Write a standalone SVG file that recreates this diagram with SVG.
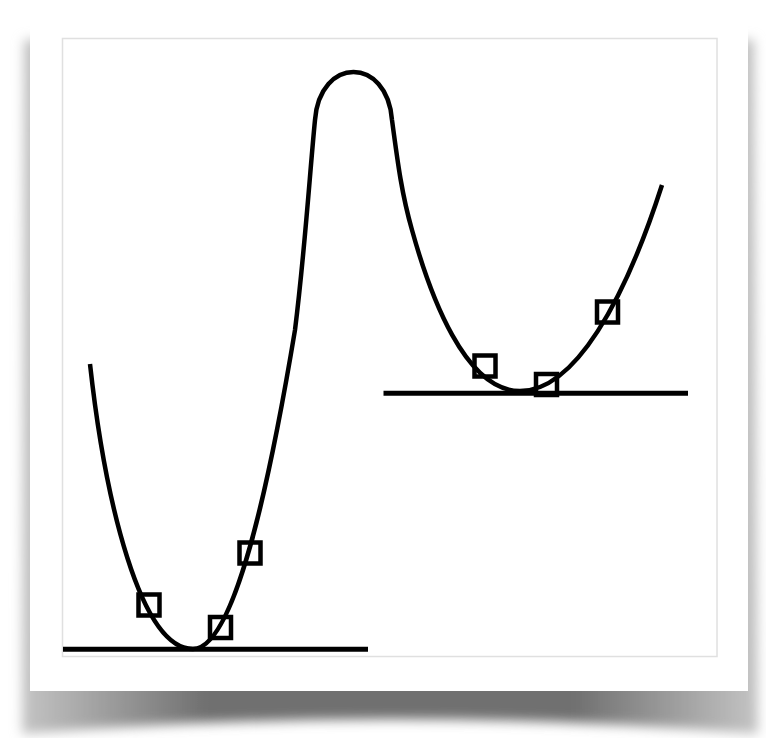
<svg xmlns="http://www.w3.org/2000/svg" width="766" height="738" viewBox="0 0 766 738">
  <defs>
    <filter id="blur" x="-10%" y="-10%" width="120%" height="120%">
      <feGaussianBlur stdDeviation="6"/>
    </filter>
    <linearGradient id="shade" x1="0" y1="0" x2="1" y2="0">
      <stop offset="0" stop-color="#c4c4c4"/>
      <stop offset="0.25" stop-color="#707070"/>
      <stop offset="0.75" stop-color="#707070"/>
      <stop offset="1" stop-color="#c4c4c4"/>
    </linearGradient>
    <style>
      .curve { fill: none; stroke: #000; stroke-width: 4.5; }
      .base { fill: none; stroke: #000; stroke-width: 5; }
      .pt { fill: none; stroke: #000; stroke-width: 4.5; }
    </style>
  </defs>
  <rect width="766" height="738" fill="#fff"/>
  <!-- shadow -->
  <path d="M24,40 L754,40 L758,734 Q390,704 22,734 Z" fill="url(#shade)" filter="url(#blur)"/>
  <!-- card -->
  <rect x="30" y="4" width="718" height="687" fill="#fff"/>
  <rect x="62.5" y="38.5" width="654.5" height="618" fill="none" stroke="#e0e0e0" stroke-width="1.5"/>

  <g id="baselines">
    <line id="base-left" class="base" x1="63" y1="649.3" x2="368" y2="649.3"/>
    <line id="base-right" class="base" x1="383.5" y1="393.3" x2="688" y2="393.3"/>
  </g>

  <g id="curve">
    <path class="curve" d="M90,364 C105,500 140,649 193,649 C235,649 270,480 295,330 C305,250 310,170 315,120 C320,56 387,56 392,120 C398,165 402,195 412,230 C430,295 465,391 520,391 C575,391 625,300 662,185"/>
  </g>

  <g id="points">
    <rect id="p1" class="pt" x="138.5" y="594.5" width="21" height="21"/>
    <rect id="p2" class="pt" x="210" y="617" width="21" height="21"/>
    <rect id="p3" class="pt" x="239.5" y="542.5" width="21" height="21"/>
    <rect id="p4" class="pt" x="474.5" y="355.5" width="21" height="21"/>
    <rect id="p5" class="pt" x="536" y="374" width="21" height="21"/>
    <rect id="p6" class="pt" x="597" y="301.5" width="21" height="21"/>
  </g>
</svg>
